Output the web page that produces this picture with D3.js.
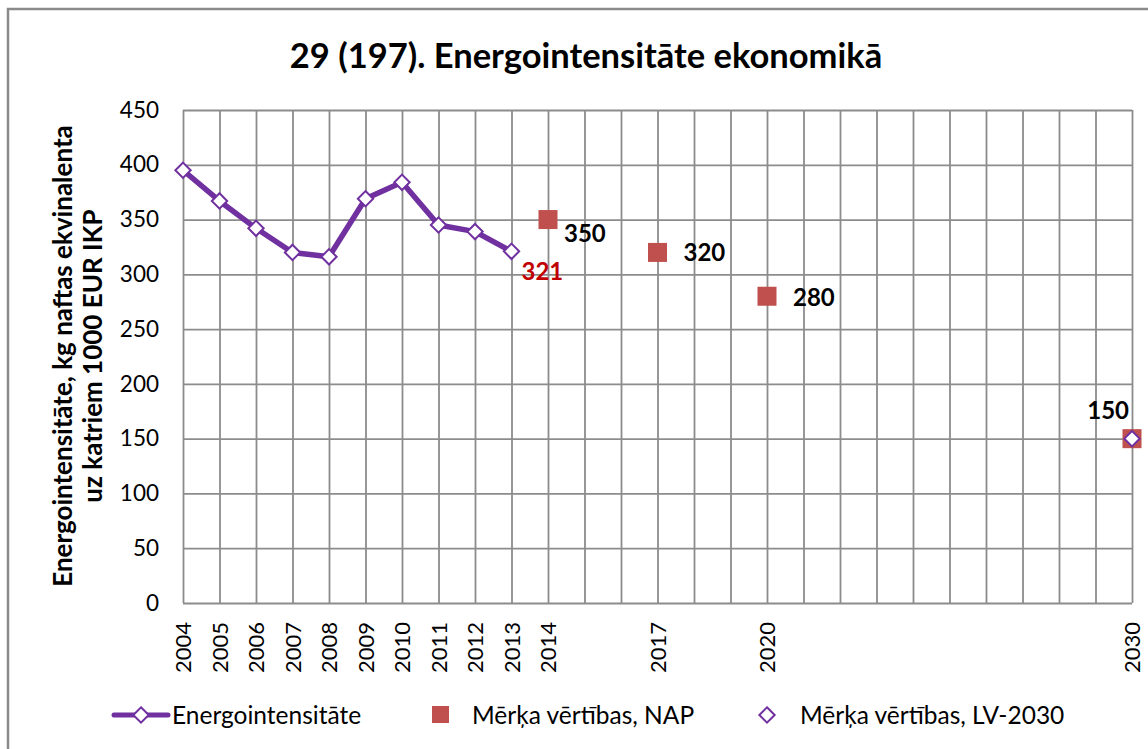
<!DOCTYPE html>
<html>
<head>
<meta charset="utf-8">
<script src="https://cdn.jsdelivr.net/npm/d3@7"></script>
<style>
  body { margin: 0; background: #fff; }
  svg { display: block; font-family: Lato, "Open Sans", sans-serif; }
</style>
</head>
<body>
<svg id="chart" width="1148" height="749"></svg>
<script>
// ---- data ----
const years = ["2004","2005","2006","2007","2008","2009","2010","2011","2012","2013","2014",
  "2015","2016","2017","2018","2019","2020","2021","2022","2023","2024","2025","2026","2027","2028","2029","2030"];
const tickLabels = ["2004","2005","2006","2007","2008","2009","2010","2011","2012","2013","2014","2017","2020","2030"];
const yTicks = [0, 50, 100, 150, 200, 250, 300, 350, 400, 450];

const actualYears = ["2004","2005","2006","2007","2008","2009","2010","2011","2012","2013"];
const actualValues = [395, 367, 342, 320, 316, 369, 384, 345, 339, 321];

const napYears = ["2014", "2017", "2020", "2030"];
const napValues = [350, 320, 280, 150];

const lvYears = ["2030"];
const lvValues = [150];

const seriesNames = ["Energointensitāte", "Mērķa vērtības, NAP", "Mērķa vērtības, LV-2030"];

// ---- layout ----
const svg = d3.select("#chart");
const plotLeft = 183, plotRight = 1132, plotTop = 110, plotBottom = 603;
const purple = "#7030a0", red = "#c0504d", grid = "#8c8c8c";

const x = d3.scalePoint().domain(years).range([plotLeft, plotRight]);
const y = d3.scaleLinear().domain([0, 450]).range([plotBottom, plotTop]);

// outer chart border
svg.append("rect")
  .attr("x", 8).attr("y", 9).attr("width", 1170).attr("height", 780)
  .attr("fill", "none").attr("stroke", "#8a8a8a").attr("stroke-width", 2.5);

// title
svg.append("text")
  .attr("x", 586).attr("y", 68)
  .attr("text-anchor", "middle")
  .attr("font-size", 34.5).attr("font-weight", "bold")
  .text("29 (197). Energointensitāte ekonomikā");

// grid lines
svg.append("g")
  .attr("transform", `translate(0,${plotBottom})`)
  .call(d3.axisBottom(x).tickSize(-(plotBottom - plotTop)).tickFormat(""))
  .call(g => g.select(".domain").remove())
  .call(g => g.selectAll("line").attr("stroke", grid).attr("stroke-width", 1.8));

svg.append("g")
  .attr("transform", `translate(${plotLeft},0)`)
  .call(d3.axisLeft(y).tickValues(yTicks).tickSize(-(plotRight - plotLeft)).tickFormat(""))
  .call(g => g.select(".domain").remove())
  .call(g => g.selectAll("line").attr("stroke", grid).attr("stroke-width", 1.8));

// y tick labels
svg.append("g")
  .attr("transform", `translate(${plotLeft},0)`)
  .call(d3.axisLeft(y).tickValues(yTicks).tickSize(0).tickPadding(24))
  .call(g => g.select(".domain").remove())
  .call(g => g.selectAll("text").attr("font-size", 22.5).attr("font-family", "Lato, sans-serif").attr("fill", "#000"));

// x tick labels (rotated)
svg.append("g")
  .attr("transform", `translate(0,${plotBottom})`)
  .call(d3.axisBottom(x).tickValues(tickLabels).tickSize(0))
  .call(g => g.select(".domain").remove())
  .call(g => g.selectAll("text")
    .attr("font-size", 22).attr("font-family", "Lato, sans-serif").attr("fill", "#000")
    .attr("transform", "rotate(-90)")
    .attr("text-anchor", "end")
    .attr("x", -19).attr("y", 0).attr("dy", "0.35em"));

// y axis title
const yTitle = svg.append("text")
  .attr("transform", "translate(72,356) rotate(-90)")
  .attr("text-anchor", "middle")
  .attr("font-size", 26).attr("font-weight", "bold");
yTitle.append("tspan").attr("x", 0).attr("dy", 0).text("Energointensitāte, kg naftas ekvinalenta");
yTitle.append("tspan").attr("x", 0).attr("dy", 30).text("uz katriem 1000 EUR IKP");

// diamond symbol
const diamond = d3.symbol().type(d3.symbolDiamond2).size(150);

// actual line
const line = d3.line()
  .x((d, i) => x(actualYears[i]))
  .y(d => y(d));

svg.append("path")
  .datum(actualValues)
  .attr("d", line)
  .attr("fill", "none")
  .attr("stroke", purple)
  .attr("stroke-width", 5.5)
  .attr("stroke-linejoin", "round");

svg.append("g").selectAll("path")
  .data(actualValues)
  .join("path")
  .attr("d", diamond)
  .attr("transform", (d, i) => `translate(${x(actualYears[i])},${y(d)})`)
  .attr("fill", "#fff").attr("stroke", purple).attr("stroke-width", 2);

// NAP targets
const sq = 19;
svg.append("g").selectAll("rect")
  .data(napValues)
  .join("rect")
  .attr("x", (d, i) => x(napYears[i]) - sq / 2)
  .attr("y", d => y(d) - sq / 2)
  .attr("width", sq).attr("height", sq)
  .attr("fill", red);

// LV-2030 target
svg.append("g").selectAll("path")
  .data(lvValues)
  .join("path")
  .attr("d", diamond)
  .attr("transform", (d, i) => `translate(${x(lvYears[i])},${y(d)})`)
  .attr("fill", "#fff").attr("stroke", purple).attr("stroke-width", 2);

// data labels
const napLabelOffsets = [[16, 22], [26, 9], [26, 10], [-3, -20]];
svg.append("g").selectAll("text")
  .data(napValues)
  .join("text")
  .attr("x", (d, i) => x(napYears[i]) + napLabelOffsets[i][0])
  .attr("y", (d, i) => y(d) + napLabelOffsets[i][1])
  .attr("text-anchor", (d, i) => napLabelOffsets[i][0] < 0 ? "end" : "start")
  .attr("font-size", 24).attr("font-weight", "bold")
  .text(d => d);

const lastIdx = actualValues.length - 1;
svg.append("text")
  .attr("x", x(actualYears[lastIdx]) + 10)
  .attr("y", y(actualValues[lastIdx]) + 29)
  .attr("font-size", 24).attr("font-weight", "bold")
  .attr("fill", "#c00000")
  .text(actualValues[lastIdx]);

// legend
const ly = 715;
const legend = svg.append("g").attr("font-size", 24.5);
legend.append("line")
  .attr("x1", 114).attr("x2", 168).attr("y1", ly).attr("y2", ly)
  .attr("stroke", purple).attr("stroke-width", 5).attr("stroke-linecap", "round");
legend.append("path").attr("d", diamond)
  .attr("transform", `translate(141,${ly})`)
  .attr("fill", "#fff").attr("stroke", purple).attr("stroke-width", 2);
legend.append("text").attr("x", 172).attr("y", ly).attr("dy", "0.35em").text(seriesNames[0]);

legend.append("rect")
  .attr("x", 432).attr("y", ly - 9).attr("width", 17).attr("height", 17)
  .attr("fill", red);
legend.append("text").attr("x", 472).attr("y", ly).attr("dy", "0.35em").text(seriesNames[1]);

legend.append("path").attr("d", diamond)
  .attr("transform", `translate(767,${ly})`)
  .attr("fill", "#fff").attr("stroke", purple).attr("stroke-width", 2);
legend.append("text").attr("x", 800).attr("y", ly).attr("dy", "0.35em").text(seriesNames[2]);
</script>
</body>
</html>
